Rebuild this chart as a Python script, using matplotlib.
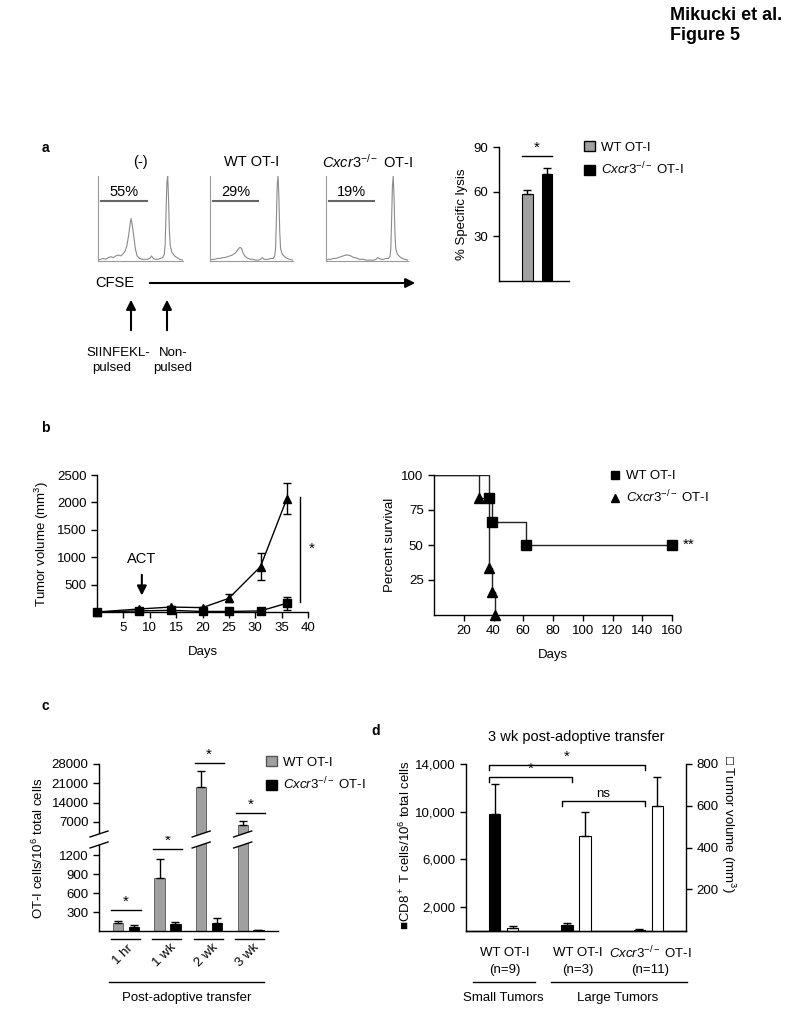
import matplotlib
matplotlib.use('Agg')
import matplotlib.pyplot as plt
import matplotlib.transforms as mtransforms
from matplotlib.patches import Patch, Polygon
from matplotlib.lines import Line2D
from matplotlib.ticker import FuncFormatter
import numpy as np

plt.rcParams['font.family'] = ['Liberation Sans', 'DejaVu Sans']
plt.rcParams['mathtext.fontset'] = 'custom'
plt.rcParams['mathtext.rm'] = 'Liberation Sans'
plt.rcParams['mathtext.it'] = 'Liberation Sans:italic'
plt.rcParams['mathtext.bf'] = 'Liberation Sans:bold'
plt.rcParams['font.size'] = 9.5
plt.rcParams['xtick.labelsize'] = 9.5
plt.rcParams['ytick.labelsize'] = 9.5
plt.rcParams['axes.linewidth'] = 1.0

KO = r'$\mathit{Cxcr3}^{-/-}$ OT-I'

# ---- panel a: CFSE histograms (relative counts)
cfse_ch = [0, 3, 6, 9, 12, 15, 18, 21, 24, 27, 30, 32, 34, 36, 38, 39, 40, 42, 44, 46,
           49, 52, 55, 58, 61, 63, 65, 67, 70, 73, 76, 78, 79, 80, 81, 82, 83, 84, 85, 87,
           90, 93, 96, 100]
hist_neg = [1, 2, 3, 2, 4, 5, 4, 6, 7, 6, 9, 12, 18, 30, 45, 50, 44, 30, 14, 6,
            3, 2, 2, 2, 3, 6, 3, 2, 2, 3, 4, 8, 20, 55, 92, 100, 72, 35, 18, 10,
            6, 4, 2, 1]
hist_wt = [1, 2, 2, 3, 3, 4, 4, 5, 6, 7, 9, 11, 14, 16, 15, 12, 9, 6, 4, 3,
           2, 2, 1, 1, 2, 4, 2, 2, 2, 3, 3, 6, 15, 50, 90, 100, 75, 35, 15, 8,
           5, 3, 2, 1]
hist_ko = [1, 2, 2, 3, 3, 4, 5, 6, 7, 7, 6, 5, 4, 4, 3, 3, 2, 2, 2, 2,
           1, 1, 1, 1, 2, 4, 3, 2, 2, 3, 3, 5, 14, 48, 88, 100, 75, 35, 15, 8,
           5, 3, 2, 1]
hist_titles = ['(-)', 'WT OT-I', KO]
hist_pct = ['55%', '29%', '19%']

lysis_labels = ['WT OT-I', KO]
lysis_mean = [58.5, 72]
lysis_sem = [2.8, 4.2]

# ---- panel b: tumour growth and survival
tv_days = [0, 8, 14, 20, 25, 31, 36]
tv_wt = [0, 20, 30, 10, 10, 20, 160]
tv_wt_err = [0, 10, 10, 5, 5, 10, 120]
tv_ko = [0, 55, 90, 80, 250, 830, 2070]
tv_ko_err = [0, 15, 25, 20, 75, 250, 285]

surv_t_wt = [0, 37, 39, 62, 160]
surv_wt = [100, 83.3, 66.7, 50, 50]
surv_t_ko = [0, 30, 37, 39, 41]
surv_ko = [100, 83.3, 33.3, 16.7, 0]

# ---- panel c: OT-I cells over time
c_times = ['1 hr', '1 wk', '2 wk', '3 wk']
c_wt = [130, 830, 19800, 6000]
c_wt_err = [30, 300, 5800, 1300]
c_ko = [70, 110, 120, 15]
c_ko_err = [20, 25, 80, 8]

# ---- panel d: 3 wk post transfer
d_groups = ['WT OT-I', 'WT OT-I', KO]
d_n = ['(n=9)', '(n=3)', '(n=11)']
d_cd8 = [9800, 500, 100]
d_cd8_err = [2500, 170, 40]
d_vol = [15, 455, 600]
d_vol_err = [7, 115, 140]

GRAY = '#a0a0a0'
W, H = 800, 1009
fig = plt.figure(figsize=(W / 100, H / 100), dpi=100)


def box(l, t, r, b):
    return fig.add_axes([l / W, 1 - b / H, (r - l) / W, (b - t) / H])


def fx(x):
    return x / W


def fy(y):
    return 1 - y / H


def clean(ax, keep=('left', 'bottom')):
    for s in ['left', 'right', 'top', 'bottom']:
        ax.spines[s].set_visible(s in keep)
    ax.tick_params(direction='out', length=4, width=1)


ov = fig.add_axes([0, 0, 1, 1], zorder=10)
ov.set_xlim(0, W)
ov.set_ylim(H, 0)
ov.axis('off')

fig.text(fx(670), fy(15), 'Mikucki et al.', fontsize=13, weight='bold', va='center')
fig.text(fx(670), fy(36), 'Figure 5', fontsize=13, weight='bold', va='center')
for lab, x, y in [('a', 45, 148), ('b', 45, 428), ('c', 45, 706), ('d', 376, 731)]:
    fig.text(fx(x), fy(y), lab, fontsize=10, weight='bold', ha='center', va='center')

# ================= panel a
hists = [hist_neg, hist_wt, hist_ko]
for (l, r), h, t, p in zip([(98, 183), (210, 293), (326, 408)], hists, hist_titles, hist_pct):
    ax = box(l, 176, r, 261)
    ax.plot(cfse_ch, h, color='#8a8a8a', lw=0.8)
    ax.set_xlim(0, 100)
    ax.set_ylim(0, 100)
    clean(ax)
    for s in ['left', 'bottom']:
        ax.spines[s].set_color('#9a9a9a')
        ax.spines[s].set_linewidth(0.8)
    ax.set_xticks([])
    ax.set_yticks([])
    ax.text(0.5, 1 + 14 / 85, t, transform=ax.transAxes, ha='center', va='center', fontsize=10.5)
    ax.plot([4, 58], [71, 71], color='#666666', lw=1.5)
    ax.text(31, 81, p, ha='center', va='center', fontsize=10.5)

fig.text(fx(115), fy(283), 'CFSE', ha='center', va='center', fontsize=10.5)
ov.annotate('', xy=(418, 283), xytext=(147, 283),
            arrowprops=dict(arrowstyle='-|>', lw=1.5, color='black', mutation_scale=14))
for xa in [131, 167]:
    ov.annotate('', xy=(xa, 297), xytext=(xa, 333),
                arrowprops=dict(arrowstyle='-|>', lw=1.5, color='black', mutation_scale=14))
ov.text(118, 353, 'SIINFEKL-', ha='center', va='center', fontsize=9.5)
ov.text(112, 368, 'pulsed', ha='center', va='center', fontsize=9.5)
ov.text(173, 353, 'Non-', ha='center', va='center', fontsize=9.5)
ov.text(173, 368, 'pulsed', ha='center', va='center', fontsize=9.5)

ax = box(499, 147, 569, 281)
lx = np.arange(len(lysis_mean))
ax.bar(lx, lysis_mean, width=0.56, color=[GRAY, 'black'], edgecolor='black', lw=0.8)
ax.errorbar(lx, lysis_mean, yerr=[[0, 0], lysis_sem], fmt='none', ecolor='black',
            elinewidth=1, capsize=3, capthick=1)
ax.set_xlim(-1.46, 2.13)
ax.set_ylim(0, 90)
ax.set_yticks([30, 60, 90])
ax.set_xticks([])
clean(ax)
ax.set_ylabel('% Specific lysis', labelpad=4)
ax.plot([-0.28, 1.28], [84, 84], color='black', lw=1, clip_on=False)
ax.text(0.5, 85, '*', ha='center', va='bottom', fontsize=11)
fig.legend([Patch(facecolor=GRAY, edgecolor='black'), Patch(facecolor='black', edgecolor='black')],
           lysis_labels, loc='upper left', bbox_to_anchor=(fx(584), fy(141)), frameon=False,
           handlelength=0.8, handleheight=0.8, handletextpad=0.5, labelspacing=0.55,
           borderpad=0, borderaxespad=0, fontsize=9.5)

# ================= panel b left
ax = box(97, 475, 308, 612)
ax.errorbar(tv_days, tv_wt, yerr=tv_wt_err, color='black', marker='s', ms=5.5, lw=1,
            capsize=3, elinewidth=1, clip_on=False, zorder=2)
ax.errorbar(tv_days, tv_ko, yerr=tv_ko_err, color='black', marker='^', ms=6, lw=1,
            capsize=3, elinewidth=1, clip_on=False, zorder=3)
ax.set_xlim(0, 40)
ax.set_ylim(0, 2500)
ax.set_xticks(range(5, 41, 5))
ax.set_yticks(range(500, 2501, 500))
clean(ax)
ax.set_xlabel('Days', labelpad=8)
ax.set_ylabel('Tumor volume (mm$^3$)', labelpad=4)
ax.annotate('', xy=(8.5, 250), xytext=(8.5, 730),
            arrowprops=dict(arrowstyle='-|>', lw=1.5, color='black', mutation_scale=14))
ax.text(8.5, 960, 'ACT', ha='center', va='center', fontsize=10.5)
ax.plot([38.5, 38.5], [180, 2090], color='black', lw=1, clip_on=False)
ax.text(40.7, 1160, '*', ha='center', va='center', fontsize=11)

# ================= panel b right
ax = box(434, 475, 672, 615)
ax.step(surv_t_ko, surv_ko, where='post', color='#222222', lw=1)
ax.step(surv_t_wt, surv_wt, where='post', color='#222222', lw=1)
ax.plot(surv_t_wt[1:], surv_wt[1:], 's', color='black', ms=6.5, clip_on=False)
ax.plot(surv_t_ko[1:], surv_ko[1:], '^', color='black', ms=6.5, clip_on=False)
ax.set_xlim(0, 160)
ax.set_ylim(0, 100)
ax.set_xticks(range(20, 161, 20))
ax.set_yticks([25, 50, 75, 100])
clean(ax)
ax.set_xlabel('Days', labelpad=8)
ax.set_ylabel('Percent survival', labelpad=4)
ax.text(171, 50, '**', ha='center', va='center', fontsize=11)
fig.legend([Line2D([], [], marker='s', ls='none', color='black', ms=6),
            Line2D([], [], marker='^', ls='none', color='black', ms=6)],
           ['WT OT-I', KO], loc='upper left', bbox_to_anchor=(fx(608), fy(470)),
           frameon=False, handlelength=1, handletextpad=0.4, labelspacing=0.5,
           borderpad=0, borderaxespad=0, fontsize=9.5)

# ================= panel c (broken axis)
cx = np.arange(len(c_times))
off, bw = 0.19, 0.25
ax_lo = box(99, 843, 278, 931)
ax_hi = box(99, 764, 278, 836)
for a in (ax_lo, ax_hi):
    a.bar(cx - off, c_wt, width=bw, color=GRAY, edgecolor='#555555', lw=0.6)
    a.bar(cx + off, c_ko, width=bw, color='black', edgecolor='black', lw=0.6)
    a.errorbar(cx - off, c_wt, yerr=[[0] * 4, c_wt_err], fmt='none', ecolor='black',
               elinewidth=1, capsize=3)
    a.errorbar(cx + off, c_ko, yerr=[[0] * 4, c_ko_err], fmt='none', ecolor='black',
               elinewidth=1, capsize=3)
    a.set_xlim(-0.65, 3.66)
    a.set_xticks([])
ax_lo.set_ylim(0, 1390)
ax_lo.set_yticks([300, 600, 900, 1200])
clean(ax_lo)
ax_hi.set_ylim(1930, 28000)
ax_hi.set_yticks([7000, 14000, 21000, 28000])
clean(ax_hi, keep=('left',))

sig_c = [(ax_lo, 330), (ax_lo, 1295), (ax_hi, 28300), (ax_hi, 10300)]
for i, (a, y) in enumerate(sig_c):
    a.plot([i - 0.35, i + 0.35], [y, y], color='black', lw=1, clip_on=False)
    a.annotate('*', (i, y), xytext=(0, 1), textcoords='offset points',
               ha='center', va='bottom', fontsize=11, annotation_clip=False)

# break marks on the axis and on the two tall bars
for xd in [ax_lo.transData.transform((-0.65, 0))[0],
           ax_lo.transData.transform((2 - off, 0))[0],
           ax_lo.transData.transform((3 - off, 0))[0]]:
    hw = 9
    ov.add_patch(Polygon([(xd - hw, 837), (xd + hw, 831), (xd + hw, 842), (xd - hw, 848)],
                         closed=True, facecolor='white', edgecolor='none'))
    ov.plot([xd - hw, xd + hw], [837, 831], color='black', lw=1)
    ov.plot([xd - hw, xd + hw], [848, 842], color='black', lw=1)

tr = mtransforms.blended_transform_factory(ax_lo.transData, ax_lo.transAxes)
for i, t in enumerate(c_times):
    ax_lo.plot([i - 0.37, i + 0.33], [-0.09, -0.09], color='black', lw=1,
               transform=tr, clip_on=False)
    ax_lo.text(i - 0.07, -0.27, t, rotation=45, ha='center', va='center',
               transform=tr, fontsize=9.5)
ax_lo.plot([-0.41, 3.33], [-0.58, -0.58], color='black', lw=1, transform=tr, clip_on=False)
ax_lo.text(1.47, -0.76, 'Post-adoptive transfer', ha='center', va='center',
           transform=tr, fontsize=9.5)
fig.text(fx(38), fy(848), 'OT-I cells/10$^6$ total cells', rotation=90,
         ha='center', va='center', fontsize=9.5)
fig.legend([Patch(facecolor=GRAY, edgecolor='#555555'), Patch(facecolor='black', edgecolor='black')],
           ['WT OT-I', KO], loc='upper left', bbox_to_anchor=(fx(266), fy(756)),
           frameon=False, handlelength=0.8, handleheight=0.8, handletextpad=0.5,
           labelspacing=0.55, borderpad=0, borderaxespad=0, fontsize=9.5)

# ================= panel d
dx = np.arange(len(d_groups))
doff, dw = 0.124, 0.155
ax = box(466, 764, 686, 931)
ax2 = ax.twinx()
ax.bar(dx - doff, d_cd8, width=dw, color='black', edgecolor='black', lw=0.8)
ax.errorbar(dx - doff, d_cd8, yerr=[[0] * 3, d_cd8_err], fmt='none', ecolor='black',
            elinewidth=1, capsize=3)
ax2.bar(dx + doff, d_vol, width=dw, color='white', edgecolor='black', lw=0.8)
ax2.errorbar(dx + doff, d_vol, yerr=[[0] * 3, d_vol_err], fmt='none', ecolor='black',
             elinewidth=1, capsize=3)
ax.set_xlim(-0.52, 2.52)
ax.set_ylim(0, 14000)
ax2.set_ylim(0, 800)
ax.set_yticks([2000, 6000, 10000, 14000])
ax.yaxis.set_major_formatter(FuncFormatter(lambda v, p: f'{int(v):,}'))
ax2.set_yticks([200, 400, 600, 800])
ax.set_xticks([])
clean(ax)
clean(ax2, keep=('right', 'bottom'))
ax.text(0.5, 1 + 27 / 167, '3 wk post-adoptive transfer', transform=ax.transAxes,
        ha='center', va='center', fontsize=10.5)


def bracket(x0, x1, y, label):
    ax.plot([x0, x0, x1, x1], [y - 420, y, y, y - 420], color='black', lw=1, clip_on=False)
    ax.text((x0 + x1) / 2, y + 80, label, ha='center', va='bottom',
            fontsize=11 if label == '*' else 9.5)


bracket(-0.2, 1.95, 13900, '*')
bracket(-0.2, 0.95, 12900, '*')
bracket(0.81, 1.95, 10900, 'ns')

trd = mtransforms.blended_transform_factory(ax.transData, ax.transAxes)
for i, (g, n) in enumerate(zip(d_groups, d_n)):
    ax.text(i + 0.02, -0.13, g, ha='center', va='center', transform=trd, fontsize=9.5)
    ax.text(i + 0.02, -0.234, n, ha='center', va='center', transform=trd, fontsize=9.5)
ax.plot([-0.43, 0.43], [-0.305, -0.305], color='black', lw=1, transform=trd, clip_on=False)
ax.plot([0.66, 2.53], [-0.305, -0.305], color='black', lw=1, transform=trd, clip_on=False)
ax.text(0.0, -0.40, 'Small Tumors', ha='center', va='center', transform=trd, fontsize=9.5)
ax.text(1.58, -0.40, 'Large Tumors', ha='center', va='center', transform=trd, fontsize=9.5)
fig.text(fx(405), fy(845), '■CD8$^+$ T cells/10$^6$ total cells', rotation=90,
         ha='center', va='center', fontsize=9.5)
fig.text(fx(728), fy(824), '□ Tumor volume (mm$^3$)', rotation=-90,
         ha='center', va='center', fontsize=9.5)

fig.savefig('out.png', dpi=100)
